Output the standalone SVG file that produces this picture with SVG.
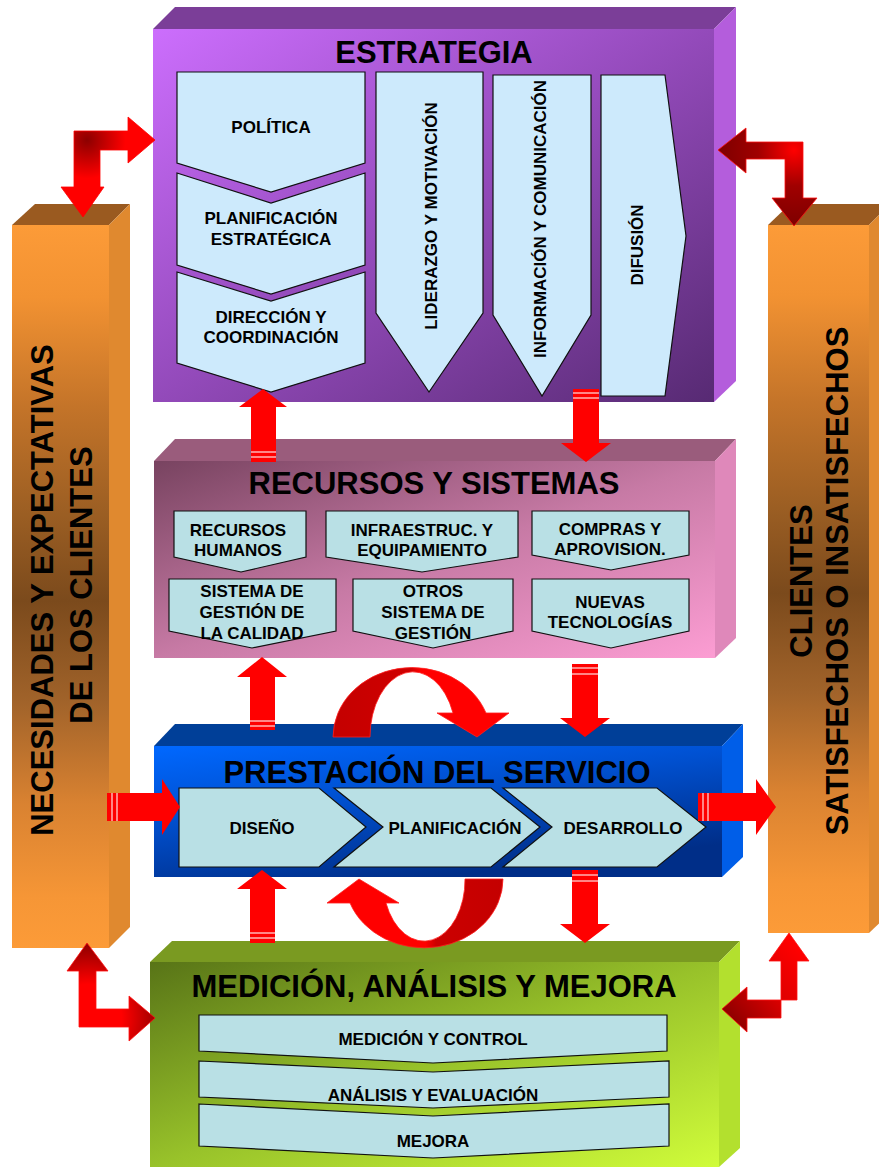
<svg xmlns="http://www.w3.org/2000/svg" width="879" height="1167" viewBox="0 0 879 1167">
<defs>
  <style>
    text { font-family: "Liberation Sans", Arial, sans-serif; font-weight: bold; fill: #000; }
    .title { font-size: 31px; text-anchor: middle; }
    .lbl { font-size: 17px; text-anchor: middle; }
    .pillar-txt { font-size: 31px; text-anchor: middle; }
    .box-s { fill: #cdeafc; stroke: #111; stroke-width: 1.2; }
    .box-c { fill: #b9e0e5; stroke: #111; stroke-width: 1.2; }
    .arrow { fill: #ff0000; }
    .stripe { stroke: #ffd0d0; stroke-width: 1.3; }
  </style>
  <!-- block faces -->
  <linearGradient id="gStrat" x1="0" y1="0" x2="1" y2="1">
    <stop offset="0" stop-color="#cc6efd"/>
    <stop offset="0.5" stop-color="#934aba"/>
    <stop offset="1" stop-color="#572a73"/>
  </linearGradient>
  <linearGradient id="gRes" x1="0" y1="0" x2="1" y2="1">
    <stop offset="0" stop-color="#784360"/>
    <stop offset="0.5" stop-color="#c77aa5"/>
    <stop offset="1" stop-color="#fc9dd3"/>
  </linearGradient>
  <linearGradient id="gServ" x1="0" y1="0" x2="0.5" y2="1">
    <stop offset="0" stop-color="#0068ff"/>
    <stop offset="0.45" stop-color="#0050d0"/>
    <stop offset="1" stop-color="#002e88"/>
  </linearGradient>
  <linearGradient id="gMeas" x1="0" y1="0" x2="1" y2="1">
    <stop offset="0" stop-color="#587417"/>
    <stop offset="0.5" stop-color="#98c22a"/>
    <stop offset="1" stop-color="#d0fc3a"/>
  </linearGradient>
  <linearGradient id="gPillar" x1="0" y1="0" x2="0" y2="1">
    <stop offset="0" stop-color="#fc9b38"/>
    <stop offset="0.1" stop-color="#f29232"/>
    <stop offset="0.25" stop-color="#c47429"/>
    <stop offset="0.4" stop-color="#9b5e23"/>
    <stop offset="0.52" stop-color="#7b4a1c"/>
    <stop offset="0.66" stop-color="#a1632a"/>
    <stop offset="0.8" stop-color="#d98231"/>
    <stop offset="0.93" stop-color="#f69636"/>
    <stop offset="1" stop-color="#fc9b38"/>
  </linearGradient>
  <!-- L-shaped connector shading -->
  <radialGradient id="gLdarkCorner" gradientUnits="userSpaceOnUse" cx="87" cy="140" r="70">
    <stop offset="0" stop-color="#8c0000"/>
    <stop offset="0.55" stop-color="#ff0000"/>
    <stop offset="1" stop-color="#ff0000"/>
  </radialGradient>
  <radialGradient id="gLbrightCornerL" gradientUnits="userSpaceOnUse" cx="88" cy="1018" r="75">
    <stop offset="0" stop-color="#ff0000"/>
    <stop offset="0.45" stop-color="#ff0000"/>
    <stop offset="1" stop-color="#8c0000"/>
  </radialGradient>
  <radialGradient id="gLbrightCornerR" gradientUnits="userSpaceOnUse" cx="794" cy="150" r="80">
    <stop offset="0" stop-color="#ff0000"/>
    <stop offset="0.45" stop-color="#a00000"/>
    <stop offset="1" stop-color="#7a0000"/>
  </radialGradient>
  <linearGradient id="gLbr" gradientUnits="userSpaceOnUse" x1="800" y1="950" x2="725" y2="1015">
    <stop offset="0" stop-color="#ff0000"/>
    <stop offset="0.45" stop-color="#e00000"/>
    <stop offset="1" stop-color="#8c0000"/>
  </linearGradient>
  <!-- curved cycle arrows -->
  <linearGradient id="gArcTop" gradientUnits="userSpaceOnUse" x1="333" y1="0" x2="509" y2="0">
    <stop offset="0" stop-color="#c40000"/>
    <stop offset="0.44" stop-color="#d00000"/>
    <stop offset="0.5" stop-color="#ff0000"/>
    <stop offset="1" stop-color="#ff0000"/>
  </linearGradient>
  <linearGradient id="gArcBot" gradientUnits="userSpaceOnUse" x1="327" y1="0" x2="503" y2="0">
    <stop offset="0" stop-color="#ff0000"/>
    <stop offset="0.56" stop-color="#ff0000"/>
    <stop offset="0.62" stop-color="#cc0000"/>
    <stop offset="1" stop-color="#c40000"/>
  </linearGradient>
</defs>

<rect width="879" height="1167" fill="#fff"/>

<!-- left pillar: customer needs -->
<g id="needs-pillar">
  <polygon points="12,225 35,204 130,204 109,225" fill="#9a5a20"/>
  <polygon points="109,225 130,204 130,927 109,948" fill="#e0892f"/>
  <rect x="12" y="225" width="97" height="723" fill="url(#gPillar)"/>
  <text class="pillar-txt" transform="translate(53,590) rotate(-90)">NECESIDADES Y EXPECTATIVAS</text>
  <text class="pillar-txt" transform="translate(92,585) rotate(-90)">DE LOS CLIENTES</text>
</g>

<!-- right pillar: customers -->
<g id="clients-pillar">
  <polygon points="768,225 790,204 890,204 869,225" fill="#9a5a20"/>
  <polygon points="869,225 890,204 890,913 869,933" fill="#e0892f"/>
  <rect x="768" y="225" width="101" height="708" fill="url(#gPillar)"/>
  <text class="pillar-txt" transform="translate(812,581) rotate(-90)">CLIENTES</text>
  <text class="pillar-txt" transform="translate(848,581) rotate(-90)">SATISFECHOS O INSATISFECHOS</text>
</g>

<!-- strategy block -->
<g id="strategy">
  <polygon points="153,29 175,7 736,7 714,29" fill="#7b3e98"/>
  <polygon points="714,29 736,7 736,381 714,402" fill="#b45ddc"/>
  <rect x="153" y="29" width="561" height="373" fill="url(#gStrat)"/>
  <text class="title" x="434" y="63">ESTRATEGIA</text>
  <polygon class="box-s" points="177,72 365,72 365,163 271,192 177,163"/>
  <polygon class="box-s" points="177,173 271,203 365,173 365,265 271,294 177,265"/>
  <polygon class="box-s" points="177,272 271,301 365,272 365,363 271,392 177,363"/>
  <text class="lbl" x="271" y="133">POLÍTICA</text>
  <text class="lbl" x="271" y="224">PLANIFICACIÓN</text>
  <text class="lbl" x="271" y="245">ESTRATÉGICA</text>
  <text class="lbl" x="271" y="323">DIRECCIÓN Y</text>
  <text class="lbl" x="271" y="343">COORDINACIÓN</text>
  <polygon class="box-s" points="376,72 483,72 483,313 429,392 376,313"/>
  <polygon class="box-s" points="493,75 591,75 591,315 542,396 493,315"/>
  <polygon class="box-s" points="601,75 665,75 686,236 665,396 601,396"/>
  <text class="lbl" transform="translate(437,216) rotate(-90)">LIDERAZGO Y MOTIVACIÓN</text>
  <text class="lbl" transform="translate(546,219) rotate(-90)">INFORMACIÓN Y COMUNICACIÓN</text>
  <text class="lbl" transform="translate(643,245) rotate(-90)">DIFUSIÓN</text>
</g>

<!-- resources and systems block -->
<g id="resources">
  <polygon points="154,461 175,439 736,439 715,461" fill="#9a5c7c"/>
  <polygon points="715,461 736,439 736,638 715,658" fill="#df88ba"/>
  <rect x="154" y="461" width="561" height="197" fill="url(#gRes)"/>
  <text class="title" x="434" y="494">RECURSOS Y SISTEMAS</text>
  <polygon class="box-c" points="174,511 306,511 306,557 241,572 174,557"/>
  <polygon class="box-c" points="326,511 518,511 518,557 422,572 326,557"/>
  <polygon class="box-c" points="532,511 689,511 689,555 611,570 532,555"/>
  <polygon class="box-c" points="169,579 336,579 336,631 252,648 169,631"/>
  <polygon class="box-c" points="353,579 513,579 513,631 433,648 353,631"/>
  <polygon class="box-c" points="532,579 689,579 689,631 611,648 532,631"/>
  <text class="lbl" x="238" y="536">RECURSOS</text>
  <text class="lbl" x="238" y="556">HUMANOS</text>
  <text class="lbl" x="422" y="536">INFRAESTRUC. Y</text>
  <text class="lbl" x="422" y="556">EQUIPAMIENTO</text>
  <text class="lbl" x="610" y="535">COMPRAS Y</text>
  <text class="lbl" x="610" y="555">APROVISION.</text>
  <text class="lbl" x="252" y="597">SISTEMA DE</text>
  <text class="lbl" x="252" y="618">GESTIÓN DE</text>
  <text class="lbl" x="252" y="639">LA CALIDAD</text>
  <text class="lbl" x="433" y="597">OTROS</text>
  <text class="lbl" x="433" y="618">SISTEMA DE</text>
  <text class="lbl" x="433" y="639">GESTIÓN</text>
  <text class="lbl" x="610" y="608">NUEVAS</text>
  <text class="lbl" x="610" y="628">TECNOLOGÍAS</text>
</g>

<!-- service delivery block -->
<g id="service">
  <polygon points="154,746 175,724 743,724 722,746" fill="#003f98"/>
  <polygon points="722,746 743,724 743,857 722,877" fill="#005ee8"/>
  <rect x="154" y="746" width="568" height="131" fill="url(#gServ)"/>
  <text class="title" x="437" y="783">PRESTACIÓN DEL SERVICIO</text>
  <polygon class="box-c" points="179,788 319,788 366,827 319,867 179,867"/>
  <polygon class="box-c" points="334,788 491,788 540,827 491,867 334,867 383,827"/>
  <polygon class="box-c" points="503,788 657,788 706,827 657,867 503,867 552,827"/>
  <text class="lbl" x="262" y="834">DISEÑO</text>
  <text class="lbl" x="455" y="834">PLANIFICACIÓN</text>
  <text class="lbl" x="623" y="834">DESARROLLO</text>
</g>

<!-- measurement, analysis and improvement block -->
<g id="measurement">
  <polygon points="150,962 172,941 740,941 719,962" fill="#7a9a21"/>
  <polygon points="719,962 740,941 740,1148 719,1167" fill="#b3e02e"/>
  <rect x="150" y="962" width="569" height="205" fill="url(#gMeas)"/>
  <text class="title" x="434" y="997">MEDICIÓN, ANÁLISIS Y MEJORA</text>
  <polygon class="box-c" points="199,1015 667,1015 667,1051 433,1063 199,1051"/>
  <polygon class="box-c" points="199,1061 433,1072 669,1061 669,1097 433,1108 199,1097"/>
  <polygon class="box-c" points="199,1104 433,1116 669,1104 669,1146 433,1158 199,1146"/>
  <text class="lbl" x="433" y="1045">MEDICIÓN Y CONTROL</text>
  <text class="lbl" x="433" y="1101">ANÁLISIS Y EVALUACIÓN</text>
  <text class="lbl" x="433" y="1147">MEJORA</text>
</g>

<!-- connectors -->
<g id="connectors">
  <!-- two-way links between the pillars and the outer blocks -->
  <polygon points="155,140 128,163 128,150 100,150 100,187 104,187 83,217 61,187 74,187 74,131 128,131 128,117" fill="url(#gLdarkCorner)" stroke="#ff0000" stroke-width="0.8"/>
  <polygon points="718,150 746,128 746,142 803,142 803,198 817,198 794,226 772,198 785,198 785,159 746,159 746,173" fill="url(#gLbrightCornerR)" stroke="#ff1010" stroke-width="0.8"/>
  <polygon points="87,943 108,971 96,971 96,1009 129,1009 129,996 155,1018 129,1041 129,1027 79,1027 79,971 67,971" fill="url(#gLbrightCornerL)" stroke="#ff1010" stroke-width="0.8"/>
  <polygon points="789,933 809,961 797,961 797,1000 747,1000 747,987 722,1009 747,1032 747,1018 781,1018 781,961 769,961" fill="url(#gLbr)" stroke="#ff1010" stroke-width="0.8"/>

  <!-- resources -> strategy -->
  <polygon class="arrow" points="263,389 287,407 276,407 276,462 251,462 251,407 239,407"/>
  <line class="stripe" x1="251" y1="452" x2="276" y2="452"/>
  <line class="stripe" x1="251" y1="457" x2="276" y2="457"/>
  <!-- strategy -> resources -->
  <polygon class="arrow" points="573,389 599,389 599,443 611,443 586,462 561,443 573,443"/>
  <line class="stripe" x1="573" y1="393" x2="599" y2="393"/>
  <line class="stripe" x1="573" y1="398" x2="599" y2="398"/>
  <!-- service -> resources -->
  <polygon class="arrow" points="262,657 287,677 275,677 275,730 250,730 250,677 237,677"/>
  <line class="stripe" x1="250" y1="721" x2="275" y2="721"/>
  <line class="stripe" x1="250" y1="726" x2="275" y2="726"/>
  <!-- resources -> service -->
  <polygon class="arrow" points="572,664 598,664 598,718 610,718 585,737 560,718 572,718"/>
  <line class="stripe" x1="572" y1="668" x2="598" y2="668"/>
  <line class="stripe" x1="572" y1="674" x2="598" y2="674"/>
  <!-- measurement -> service -->
  <polygon class="arrow" points="262,870 287,889 275,889 275,943 250,943 250,889 237,889"/>
  <line class="stripe" x1="250" y1="933" x2="275" y2="933"/>
  <line class="stripe" x1="250" y1="938" x2="275" y2="938"/>
  <!-- service -> measurement -->
  <polygon class="arrow" points="572,870 598,870 598,924 610,924 585,943 560,924 572,924"/>
  <line class="stripe" x1="572" y1="875" x2="598" y2="875"/>
  <line class="stripe" x1="572" y1="881" x2="598" y2="881"/>
  <!-- needs -> service -->
  <polygon class="arrow" points="107,793 162,793 162,779 180,807 162,835 162,821 107,821"/>
  <line class="stripe" x1="112" y1="793" x2="112" y2="821"/>
  <line class="stripe" x1="117" y1="793" x2="117" y2="821"/>
  <!-- service -> clients -->
  <polygon class="arrow" points="698,793 756,793 756,779 776,807 756,835 756,821 698,821"/>
  <line class="stripe" x1="703" y1="793" x2="703" y2="821"/>
  <line class="stripe" x1="708" y1="793" x2="708" y2="821"/>

  <!-- improvement cycle around the service block -->
  <path d="M333,737 A79,70 0 0 1 486,713 L509,713 L477,737 L437,713 L453,713 A43,65 0 0 0 370,737 Z" fill="url(#gArcTop)" stroke="#ff2020" stroke-width="0.8"/>
  <path d="M503,879 A79,69 0 0 1 350,903 L327,903 L359,879 L399,903 L386,903 A41,61 0 0 0 465,879 Z" fill="url(#gArcBot)" stroke="#ff2020" stroke-width="0.8"/>
</g>
</svg>
